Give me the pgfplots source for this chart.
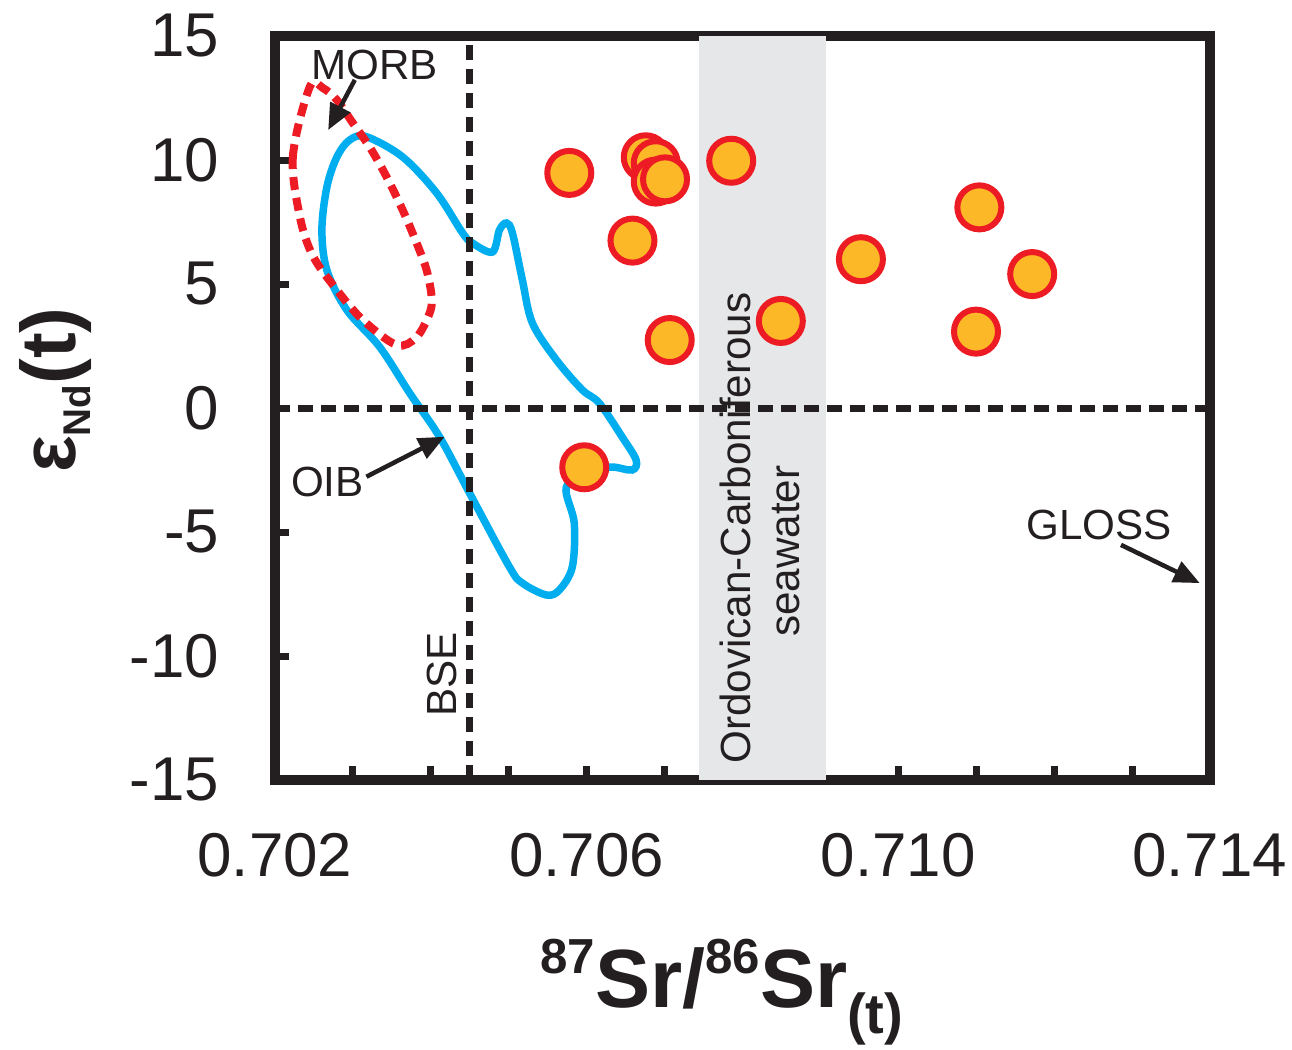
\documentclass[border=0pt]{standalone}
\usepackage{fontspec}
\setmainfont{Liberation Sans}
\usepackage{pgfplots}
\pgfplotsset{compat=1.18}
\usetikzlibrary{arrows.meta}

\definecolor{axblack}{HTML}{231F20}
\definecolor{ptfill}{HTML}{FDB827}
\definecolor{ptedge}{HTML}{ED1C24}
\definecolor{oib}{HTML}{00AEEF}
\definecolor{band}{HTML}{E6E7E8}

\begin{document}
\begin{tikzpicture}
\begin{axis}[
    name=ax,
    scale only axis,
    width=93.5mm, height=74.4mm,
    xmin=0.702, xmax=0.714, ymin=-15, ymax=15,
    clip=false,
    axis line style={line width=0.95mm, axblack},
    xtick={0.702,0.706,0.710,0.714},
    xticklabels={0.702,0.706,0.710,0.714},
    minor xtick={0.703,0.704,0.705,0.707,0.708,0.709,0.711,0.712,0.713},
    ytick={-15,-10,-5,0,5,10,15},
    yticklabels={-15,-10,-5,0,5,10,15},
    scaled x ticks=false,
    tick align=inside,
    xtick pos=bottom, ytick pos=left,
    major tick length=1.4mm, minor tick length=1.4mm,
    tick style={line width=0.7mm, axblack},
    /pgf/number format/assume math mode=true,
    tick label style={font=\fontsize{17.6}{18}\selectfont, text=axblack},
    xticklabel style={anchor=north, inner sep=0pt, yshift=-5.3mm},
    yticklabel style={anchor=east, inner sep=0pt, xshift=-5.5mm},
    xlabel={\bfseries\raisebox{3.4mm}{\fontsize{14}{14}\selectfont 87}\fontsize{23.5}{24}\selectfont Sr/\raisebox{3.4mm}{\fontsize{14}{14}\selectfont 86}Sr\raisebox{-2.6mm}{\fontsize{16}{16}\selectfont (t)}},
    xlabel style={at={(axis description cs:0.478,-0.213)}, anchor=north, inner sep=0pt, text=axblack},
    ylabel={\bfseries\fontsize{22}{22}\selectfont ε\raisebox{-1.5mm}{\fontsize{11}{11}\selectfont Nd}(t)},
    ylabel style={at={(axis description cs:-0.195,0.524)}, anchor=south, inner sep=0pt, text=axblack},
]

% Ordovician-Carboniferous seawater band
\addplot[fill=band, draw=none] coordinates {(0.70744,-15) (0.70907,-15) (0.70907,15) (0.70744,15)} -- cycle;

% OIB field
\addplot[oib, line width=0.75mm, smooth cycle, tension=0.55] coordinates {
(0.703174,10.94) (0.703639,10.12) (0.704074,8.67) (0.704407,7.06) (0.704535,6.65)
(0.704791,6.29) (0.704881,7.18) (0.704971,7.46) (0.705047,7.06) (0.705175,5.16)
(0.705303,3.43) (0.705611,1.94) (0.705944,0.73) (0.706161,0.20) (0.706456,-1.17)
(0.706635,-2.10) (0.706584,-2.50) (0.706328,-2.38) (0.706033,-2.50) (0.705739,-3.19)
(0.705841,-4.64) (0.705816,-6.41) (0.705649,-7.34) (0.705483,-7.54) (0.705175,-7.06)
(0.705009,-6.41) (0.704497,-3.43) (0.704113,-1.17) (0.703729,0.60) (0.703344,2.46)
(0.702922,3.95) (0.702666,5.56) (0.702602,7.18) (0.702666,8.91) (0.702794,10.12)
(0.702960,10.81)
};

% MORB field
\addplot[ptedge, line width=0.8mm, dash pattern=on 1.3mm off 0.8mm, smooth cycle, tension=0.55] coordinates {
(0.702448,12.96) (0.702230,10.16) (0.702320,7.70) (0.702487,6.13) (0.702794,4.76)
(0.703127,3.55) (0.703562,2.54) (0.703818,2.86) (0.703985,3.83) (0.704010,4.48)
(0.703946,5.56) (0.703818,6.65) (0.703639,7.98) (0.703434,9.31) (0.703216,10.52)
(0.702999,11.49) (0.702794,12.42) (0.702615,12.90)
};

% BSE and zero reference lines
\addplot[axblack, line width=0.7mm, dash pattern=on 1.5mm off 0.9mm] coordinates {(0.7045,-15) (0.7045,15)};
\addplot[axblack, line width=0.7mm, dash pattern=on 1.5mm off 0.8mm] coordinates {(0.702,0) (0.714,0)};

% samples
\addplot[only marks, mark=*, mark size=2.2mm, mark options={fill=ptfill, draw=ptedge, line width=0.6mm}] coordinates {
(0.705777,9.48) (0.706759,10.11) (0.706887,9.87) (0.706887,9.13) (0.707006,9.22)
(0.706588,6.75) (0.707066,2.74) (0.707855,9.97) (0.708492,3.51) (0.709520,6.00)
(0.711040,8.09) (0.711718,5.40) (0.710997,3.08) (0.705969,-2.39)
};

% labels and arrows
\node[font=\fontsize{12}{12}\selectfont, text=axblack, inner sep=0pt] at (axis cs:0.703280,13.83) {MORB};
\node[font=\fontsize{12}{12}\selectfont, text=axblack, inner sep=0pt] at (axis cs:0.702672,-2.98) {OIB};
\node[font=\fontsize{12}{12}\selectfont, text=axblack, inner sep=0pt, rotate=90] at (axis cs:0.704138,-10.73) {BSE};
\node[font=\fontsize{12}{12}\selectfont, text=axblack, inner sep=0pt] at (axis cs:0.712576,-4.72) {GLOSS};
\node[font=\fontsize{12}{12}\selectfont, text=axblack, inner sep=0pt, rotate=90] at (axis cs:0.707915,-4.84) {Ordovican-Carboniferous};
\node[font=\fontsize{12}{12}\selectfont, text=axblack, inner sep=0pt, rotate=90] at (axis cs:0.708556,-5.77) {seawater};
\draw[line width=0.45mm, axblack, -{Triangle[length=2.6mm, width=2.2mm]}] (axis cs:0.703024,13.23) -- (axis cs:0.702683,11.21);
\draw[line width=0.45mm, axblack, -{Triangle[length=2.6mm, width=2.2mm]}] (axis cs:0.703174,-2.77) -- (axis cs:0.704177,-1.16);
\draw[line width=0.45mm, axblack, -{Triangle[length=2.6mm, width=2.2mm]}] (axis cs:0.712858,-5.52) -- (axis cs:0.713869,-7.06);
\end{axis}
\pgfresetboundingbox
\path[use as bounding box] (ax.south west) ++(-27.5mm,-27mm) rectangle ++(129.2mm,105mm);
\end{tikzpicture}
\end{document}
